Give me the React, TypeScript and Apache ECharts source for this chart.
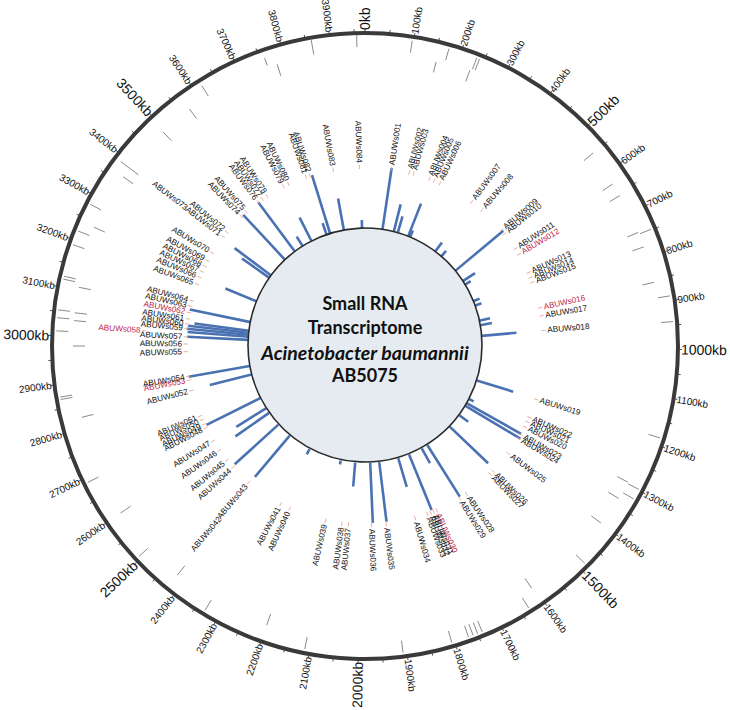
import React, { useEffect, useRef } from 'react';
import * as echarts from 'echarts';

// ---------------- data ----------------
const GENOME_KB = 3972;
const INNER_R = 117; // radius of the central disc (radial axis units)
const RING_R = 313; // radius of the genome ring

const tickKb = [0, 100, 200, 300, 400, 500, 600, 700, 800, 900, 1000, 1100, 1200, 1300, 1400, 1500, 1600, 1700, 1800, 1900,
  2000, 2100, 2200, 2300, 2400, 2500, 2600, 2700, 2800, 2900, 3000, 3100, 3200, 3300, 3400, 3500, 3600, 3700, 3800, 3900];
const tickLabels = tickKb.map((v) => `${v}kb`);
const majorTicks = [0, 500, 1000, 1500, 2000, 2500, 3000, 3500];

const srnaIds = [
  'ABUWs001', 'ABUWs002', 'ABUWs003', 'ABUWs004', 'ABUWs005', 'ABUWs006', 'ABUWs007', 'ABUWs008', 'ABUWs009', 'ABUWs010',
  'ABUWs011', 'ABUWs012', 'ABUWs013', 'ABUWs014', 'ABUWs015', 'ABUWs016', 'ABUWs017', 'ABUWs018', 'ABUWs019', 'ABUWs020',
  'ABUWs021', 'ABUWs022', 'ABUWs023', 'ABUWs024', 'ABUWs025', 'ABUWs026', 'ABUWs027', 'ABUWs028', 'ABUWs029', 'ABUWs030',
  'ABUWs031', 'ABUWs032', 'ABUWs033', 'ABUWs034', 'ABUWs035', 'ABUWs036', 'ABUWs037', 'ABUWs038', 'ABUWs039', 'ABUWs040',
  'ABUWs041', 'ABUWs042', 'ABUWs043', 'ABUWs044', 'ABUWs045', 'ABUWs046', 'ABUWs047', 'ABUWs048', 'ABUWs049', 'ABUWs050',
  'ABUWs051', 'ABUWs052', 'ABUWs053', 'ABUWs054', 'ABUWs055', 'ABUWs056', 'ABUWs057', 'ABUWs058', 'ABUWs059', 'ABUWs060',
  'ABUWs061', 'ABUWs062', 'ABUWs063', 'ABUWs064', 'ABUWs065', 'ABUWs066', 'ABUWs067', 'ABUWs068', 'ABUWs069', 'ABUWs070',
  'ABUWs071', 'ABUWs072', 'ABUWs073', 'ABUWs074', 'ABUWs075', 'ABUWs076', 'ABUWs077', 'ABUWs078', 'ABUWs079', 'ABUWs080',
  'ABUWs081', 'ABUWs082', 'ABUWs083', 'ABUWs084',
];
// genome position (kb) where each label is placed
const srnaLabelKb = [
  94, 158, 174, 233, 250, 273, 403, 449, 548, 565,
  630, 653, 726, 745, 763, 857, 886, 938, 1184, 1289,
  1269, 1252, 1320, 1335, 1400, 1482, 1497, 1606, 1635, 1726,
  1738, 1749, 1761, 1807, 1911, 1963, 2044, 2068, 2127, 2260,
  2296, 2429, 2432, 2509, 2542, 2586, 2626, 2679, 2693, 2710,
  2725, 2820, 2858, 2871, 2959, 2986, 3011, 3023, 3041, 3057,
  3075, 3098, 3121, 3141, 3202, 3228, 3250, 3271, 3293, 3325,
  3394, 3415, 3394, 3490, 3514, 3568, 3586, 3606, 3673, 3693,
  3760, 3774, 3859, 3952,
];
const pushedOut = ['ABUWs042', 'ABUWs058', 'ABUWs073'];
const highlighted = ['ABUWs012', 'ABUWs016', 'ABUWs030', 'ABUWs053', 'ABUWs058', 'ABUWs062'];

// blue expression bars: position (kb) and outer radius reached
const barKb = [94, 156, 178, 237, 248, 404, 446, 554, 623, 645,
  745, 771, 855, 880, 938, 1182, 1291, 1317, 1333, 1393,
  1474, 1631, 1666, 1742, 1804, 1909, 1958, 2039, 2118, 2298,
  2428, 2513, 2594, 2624, 2687, 2823, 2870, 3012, 3029, 3040,
  3051, 3062, 3109, 3226, 3370, 3386, 3499, 3568, 3619, 3674,
  3762, 3782, 3858, 3956];
const barValue = [180, 146, 135, 153, 125, 129, 125, 180, 132, 124,
  124, 124, 128, 129, 152, 155, 122, 179, 181, 128,
  170, 178, 134, 177, 147, 177, 177, 141, 121, 123,
  171, 176, 158, 152, 177, 160, 179, 178, 178, 179,
  178, 172, 179, 151, 151, 163, 179, 179, 129, 144,
  130, 179, 150, 126];

// grey feature track near the ring: position (kb), inner and outer radius
const featKb = [97, 155, 174, 230, 234, 240, 549, 627, 656, 744, 748, 777, 856, 890, 943,
  1184, 1295, 1298, 1320, 1335, 1400, 1486, 1605, 1633, 1740, 1750, 1760, 1770, 1806, 1908,
  2110, 2200, 2330, 2420, 2505, 2600, 2690, 2823, 2869, 2874, 2979, 3010, 3034, 3037, 3051, 3053,
  3107, 3117, 3123, 3190, 3220, 3240, 3280, 3365, 3388, 3494, 3569, 3618, 3760, 3781, 3862, 3955];
const featInner = [297, 282, 297, 283, 297, 297, 287, 284, 284, 284, 297, 284, 284, 297, 297,
  297, 284, 297, 297, 284, 283, 297, 282, 297, 297, 297, 297, 297, 297, 297,
  297, 284, 297, 284, 297, 284, 297, 280, 297, 297, 280, 297, 280, 297, 280, 297,
  280, 297, 297, 297, 297, 284, 297, 283, 284, 282, 283, 295, 297, 283, 296, 299];
const featOuter = [309, 293, 309, 295, 309, 309, 299, 296, 296, 296, 309, 296, 296, 309, 309,
  309, 296, 309, 309, 296, 295, 309, 294, 309, 309, 309, 309, 309, 309, 309,
  309, 296, 309, 296, 309, 296, 309, 292, 309, 309, 292, 309, 292, 309, 292, 309,
  292, 309, 309, 309, 309, 296, 309, 295, 306, 294, 295, 307, 305, 295, 312, 311];

const titleLines = ['Small RNA', 'Transcriptome', 'Acinetobacter baumannii', 'AB5075'];

const LABEL_FONT = 'Liberation Sans';

// ---------------- helpers ----------------
function radialText(api: any, params: any, r: number, kb: number, text: string, fontSize: number, fill: string) {
  const p = api.coord([r, kb]);
  const cx = params.coordSys.cx;
  const cy = params.coordSys.cy;
  const ux = p[0] - cx;
  const uy = p[1] - cy;
  let rot = Math.atan2(-uy, ux);
  let align = 'left';
  if (ux < -0.01) {
    rot += Math.PI;
    align = 'right';
  }
  return {
    type: 'text',
    x: p[0],
    y: p[1],
    rotation: rot,
    style: { text, fontSize, fill, align, verticalAlign: 'middle', fontFamily: LABEL_FONT },
  };
}

export default function App() {
  const ref = useRef<HTMLDivElement>(null);

  useEffect(() => {
    if (!ref.current) return;
    const chart = echarts.init(ref.current, undefined, { renderer: 'svg' });

    const option: any = {
      animation: false,
      backgroundColor: '#ffffff',
      polar: { center: [365, 346], radius: RING_R },
      angleAxis: {
        type: 'value',
        min: 0,
        max: GENOME_KB,
        interval: 50,
        startAngle: 90,
        clockwise: true,
        axisLine: { show: true, lineStyle: { color: '#3a3a3a', width: 4 } },
        axisTick: { show: true, inside: false, length: 4, lineStyle: { color: '#555', width: 1 } },
        axisLabel: { show: false },
        splitLine: { show: false },
      },
      radiusAxis: {
        type: 'value',
        min: 0,
        max: RING_R,
        axisLine: { show: false },
        axisTick: { show: false },
        axisLabel: { show: false },
        splitLine: { show: false },
      },
      series: [
        {
          type: 'custom',
          name: 'features',
          coordinateSystem: 'polar',
          data: featKb.map((kb, i) => [featOuter[i], kb, featInner[i]]),
          renderItem: (params: any, api: any) => {
            const kb = api.value(1);
            const p0 = api.coord([api.value(2), kb]);
            const p1 = api.coord([api.value(0), kb]);
            return {
              type: 'line',
              shape: { x1: p0[0], y1: p0[1], x2: p1[0], y2: p1[1] },
              style: { stroke: '#8a8a8a', lineWidth: 1 },
            };
          },
          z: 1,
        },
        {
          type: 'custom',
          name: 'tickLabels',
          coordinateSystem: 'polar',
          data: tickKb.map((kb) => [RING_R + 3, kb]),
          renderItem: (params: any, api: any) => {
            const i = params.dataIndex;
            const big = majorTicks.indexOf(tickKb[i]) >= 0;
            return radialText(api, params, api.value(0), api.value(1), tickLabels[i], big ? 14 : 10, '#111');
          },
          z: 3,
        },
        {
          type: 'custom',
          name: 'bars',
          coordinateSystem: 'polar',
          data: barKb.map((kb, i) => [barValue[i], kb]),
          renderItem: (params: any, api: any) => {
            const kb = api.value(1);
            const p0 = api.coord([INNER_R, kb]);
            const p1 = api.coord([api.value(0), kb]);
            return {
              type: 'line',
              shape: { x1: p0[0], y1: p0[1], x2: p1[0], y2: p1[1] },
              style: { stroke: '#4a72b2', lineWidth: 2.6 },
            };
          },
          z: 2,
        },
        {
          type: 'custom',
          name: 'disc',
          coordinateSystem: 'polar',
          data: [[0, 0]],
          renderItem: (params: any, api: any) => {
            const c = api.coord([0, 0]);
            const e = api.coord([INNER_R, 0]);
            const r = Math.hypot(e[0] - c[0], e[1] - c[1]);
            const offsets = [-43, -19, 6, 29];
            return {
              type: 'group',
              children: [
                {
                  type: 'circle',
                  shape: { cx: c[0], cy: c[1] - 1, r },
                  style: { fill: '#e5ebf1', stroke: '#2a2a2a', lineWidth: 1.6 },
                },
                ...titleLines.map((t, i) => ({
                  type: 'text',
                  x: c[0],
                  y: c[1] + offsets[i],
                  style: {
                    text: t,
                    fontSize: i === 2 ? 19.5 : 18,
                    fontWeight: 'bold',
                    fontStyle: i === 2 ? 'italic' : 'normal',
                    fontFamily: 'Lato',
                    fill: '#111',
                    align: 'center',
                    verticalAlign: 'middle',
                  },
                })),
              ],
            };
          },
          z: 4,
        },
        {
          type: 'custom',
          name: 'srnaLabels',
          coordinateSystem: 'polar',
          data: srnaLabelKb.map((kb, i) => [pushedOut.indexOf(srnaIds[i]) >= 0 ? 225 : 183, kb]),
          renderItem: (params: any, api: any) => {
            const i = params.dataIndex;
            const r = api.value(0);
            const kb = api.value(1);
            const hi = highlighted.indexOf(srnaIds[i]) >= 0;
            const c0 = api.coord([r > 200 ? 220 : 177, kb]);
            const c1 = api.coord([r - 1.5, kb]);
            return {
              type: 'group',
              children: [
                {
                  type: 'line',
                  shape: { x1: c0[0], y1: c0[1], x2: c1[0], y2: c1[1] },
                  style: { stroke: '#e79a86', lineWidth: 0.8 },
                },
                radialText(api, params, r, kb, srnaIds[i], 8.2, hi ? '#c0284f' : '#111'),
              ],
            };
          },
          z: 5,
        },
      ],
    };

    chart.setOption(option);
    return () => chart.dispose();
  }, []);

  return (
    <div
      ref={ref}
      style={{ position: 'absolute', left: 0, top: 0, width: 730, height: 710, background: '#fff' }}
    />
  );
}
